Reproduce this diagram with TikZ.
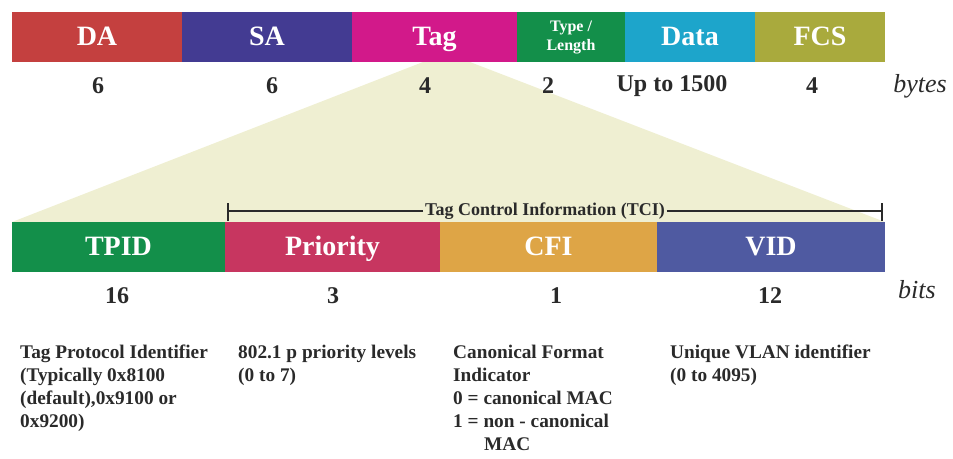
\documentclass[tikz,border=0pt]{standalone}
\usepackage{fontspec}
\setmainfont{Liberation Serif}
\usepackage{xcolor}
\usepackage{tikz}

\definecolor{daRed}{HTML}{C4403F}
\definecolor{saBlue}{HTML}{433B92}
\definecolor{tagPink}{HTML}{D2198A}
\definecolor{tlGreen}{HTML}{138F4A}
\definecolor{dataCyan}{HTML}{1DA5CB}
\definecolor{fcsOlive}{HTML}{A9AA3D}
\definecolor{prioRed}{HTML}{C73660}
\definecolor{cfiOrange}{HTML}{DEA546}
\definecolor{vidBlue}{HTML}{4F5AA1}
\definecolor{triFill}{HTML}{EFEFD2}
\definecolor{inkGray}{HTML}{2A2A2A}

\tikzset{
	fld/.style={inner sep=0, minimum height=50, text height=19, text depth=3, text=white, font=\bfseries\fontsize{28}{28}\selectfont},
	num/.style={text=inkGray, font=\bfseries\fontsize{24}{24}\selectfont},
	unit/.style={text=inkGray, font=\itshape\fontsize{26}{26}\selectfont},
	desc/.style={anchor=north west, align=left, inner sep=0, text=inkGray, font=\bfseries\fontsize{19.3}{23}\selectfont}
}

\begin{document}
\begin{tikzpicture}[x=1pt,y=-1pt]
		\useasboundingbox (0,0) rectangle (953,458);
		% yellow zoom wedge under the frame
		\fill[triFill] (423,62) -- (470,62) -- (885,222) -- (12,222) -- cycle;
		\draw
		node[fld, fill=daRed, minimum width=170] at (97,37) (da) {DA}
		node[fld, fill=saBlue, minimum width=170] at (267,37) (sa) {SA}
		node[fld, fill=tagPink, minimum width=165] at (434.5,37) (tag) {Tag}
		node[fld, fill=tlGreen, minimum width=108, align=center, text height=, text depth=, font=\bfseries\fontsize{16}{19}\selectfont] at (571,37) (tl) {Type /\\Length}
		node[fld, fill=dataCyan, minimum width=130] at (690,37) (dat) {Data}
		node[fld, fill=fcsOlive, minimum width=130] at (820,37) (fcs) {FCS}
		node[num] at (98,86) (nda) {6}
		node[num] at (272,86) (nsa) {6}
		node[num] at (425,86) (ntag) {4}
		node[num] at (548,86) (ntl) {2}
		node[num] at (672,86) (ndat) {Up to 1500}
		node[num] at (812,86) (nfcs) {4}
		node[unit] at (920,86) (bytes) {bytes}
		node[fld, fill=tlGreen, minimum width=213] at (118.5,247) (tpid) {TPID}
		node[fld, fill=prioRed, minimum width=215] at (332.5,247) (prio) {Priority}
		node[fld, fill=cfiOrange, minimum width=217] at (548.5,247) (cfi) {CFI}
		node[fld, fill=vidBlue, minimum width=228] at (771,247) (vid) {VID}
		node[num] at (117,296) (ntpid) {16}
		node[num] at (333,296) (nprio) {3}
		node[num] at (556,296) (ncfi) {1}
		node[num] at (770,296) (nvid) {12}
		node[unit] at (917,290) (bits) {bits}
		node[desc] at (20,345) (dtpid) {Tag Protocol Identifier\\(Typically 0x8100\\(default),0x9100 or\\0x9200)}
		node[desc] at (238,345) (dprio) {802.1 p priority levels\\(0 to 7)}
		node[desc] at (453,345) (dcfi) {Canonical Format\\Indicator\\0 = canonical MAC\\1 = non - canonical\\\hspace*{31pt}MAC}
		node[desc] at (670,345) (dvid) {Unique VLAN identifier\\(0 to 4095)};
		% TCI bracket
		\node[fill=triFill, inner sep=2, text=inkGray, font=\bfseries\fontsize{18}{18}\selectfont] at (545,211) (tci) {Tag Control Information (TCI)};
		\coordinate (tcil) at (228,221);
		\coordinate (tcir) at (882,221);
		\draw[inkGray, line width=1.1] (tci.west) -- (tcil |- tci.west);
		\draw[inkGray, line width=1.1] (tci.east) -- (tcir |- tci.west);
		\draw[inkGray, line width=1.1] (tcil) -- ++(0,-18);
		\draw[inkGray, line width=1.1] (tcir) -- ++(0,-18);
\end{tikzpicture}
\end{document}
